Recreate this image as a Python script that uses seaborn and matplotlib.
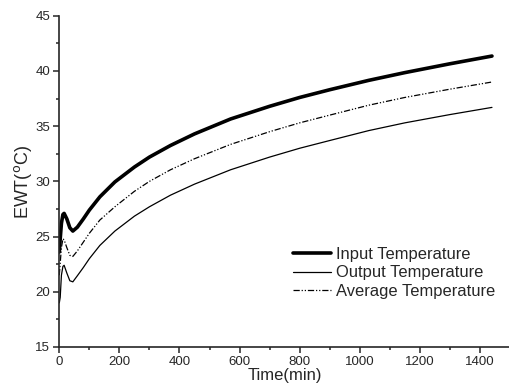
import numpy as np
import pandas as pd
import seaborn as sns
import matplotlib.pyplot as plt
from matplotlib.ticker import MultipleLocator

# Values
time_min = [0, 3, 7, 12, 16, 25, 35, 45, 60, 80, 100, 135, 185, 250, 300,
            370, 450, 570, 700, 800, 900, 1030, 1150, 1300, 1440]
input_temp = [23.6, 24.8, 26.2, 27.0, 27.1, 26.6, 25.8, 25.5, 25.85, 26.6, 27.4,
              28.6, 29.95, 31.3, 32.2, 33.25, 34.3, 35.65, 36.8, 37.6, 38.3, 39.15,
              39.85, 40.65, 41.35]
output_temp = [19.0, 19.5, 21.5, 22.3, 22.4, 21.7, 21.0, 20.9, 21.45, 22.2, 23.0,
               24.2, 25.5, 26.85, 27.7, 28.75, 29.75, 31.05, 32.2, 33.0, 33.7, 34.6,
               35.3, 36.05, 36.7]
average_temp = [21.5, 22.6, 24.0, 24.8, 24.7, 24.0, 23.3, 23.2, 23.7, 24.5, 25.3,
                26.5, 27.7, 29.1, 30.0, 31.05, 32.05, 33.35, 34.5, 35.3, 36.0, 36.9,
                37.6, 38.35, 39.0]

sns.set_style('ticks')
plt.rcParams['font.family'] = ['Liberation Sans', 'DejaVu Sans']
plt.rcParams['xtick.direction'] = 'out'
plt.rcParams['ytick.direction'] = 'out'

fig = plt.figure(figsize=(5.1, 3.89), dpi=100)
ax = fig.add_axes([0.1163, 0.108, 0.8837, 0.8515])

sns.lineplot(x=time_min, y=input_temp, ax=ax, color='black', lw=2.6,
             label='Input Temperature')
sns.lineplot(x=time_min, y=output_temp, ax=ax, color='black', lw=0.9,
             label='Output Temperature')
sns.lineplot(x=time_min, y=average_temp, ax=ax, color='black', lw=0.9,
             label='Average Temperature')
ax.lines[2].set_dashes([5, 1.5, 1, 1.5, 1, 1.5])

ax.set_xlim(0, 1500)
ax.set_ylim(15, 45)
ax.xaxis.set_major_locator(MultipleLocator(200))
ax.xaxis.set_minor_locator(MultipleLocator(100))
ax.yaxis.set_major_locator(MultipleLocator(5))
ax.yaxis.set_minor_locator(MultipleLocator(2.5))
ax.tick_params(which='major', length=4.5, width=1.1, labelsize=9.5, pad=2)
ax.tick_params(which='minor', length=2.5, width=1.1)
ax.set_xticks([0, 200, 400, 600, 800, 1000, 1200, 1400])
ax.set_xticklabels(['0', '200', '400', '600', '800', '1000', '1200', '1400'])

ax.set_xlabel('Time(min)', fontsize=12, labelpad=0)
ax.set_ylabel('EWT($^{\\rm o}$C)', fontsize=13, labelpad=1)
sns.despine(ax=ax)
for s in ['left', 'bottom']:
    ax.spines[s].set_linewidth(1.2)

ax.legend(loc='lower right', bbox_to_anchor=(1.0, 0.10), frameon=False,
          fontsize=11.9, handlelength=2.3, handletextpad=0.3, labelspacing=0.22)

plt.savefig('out.png', dpi=100)
